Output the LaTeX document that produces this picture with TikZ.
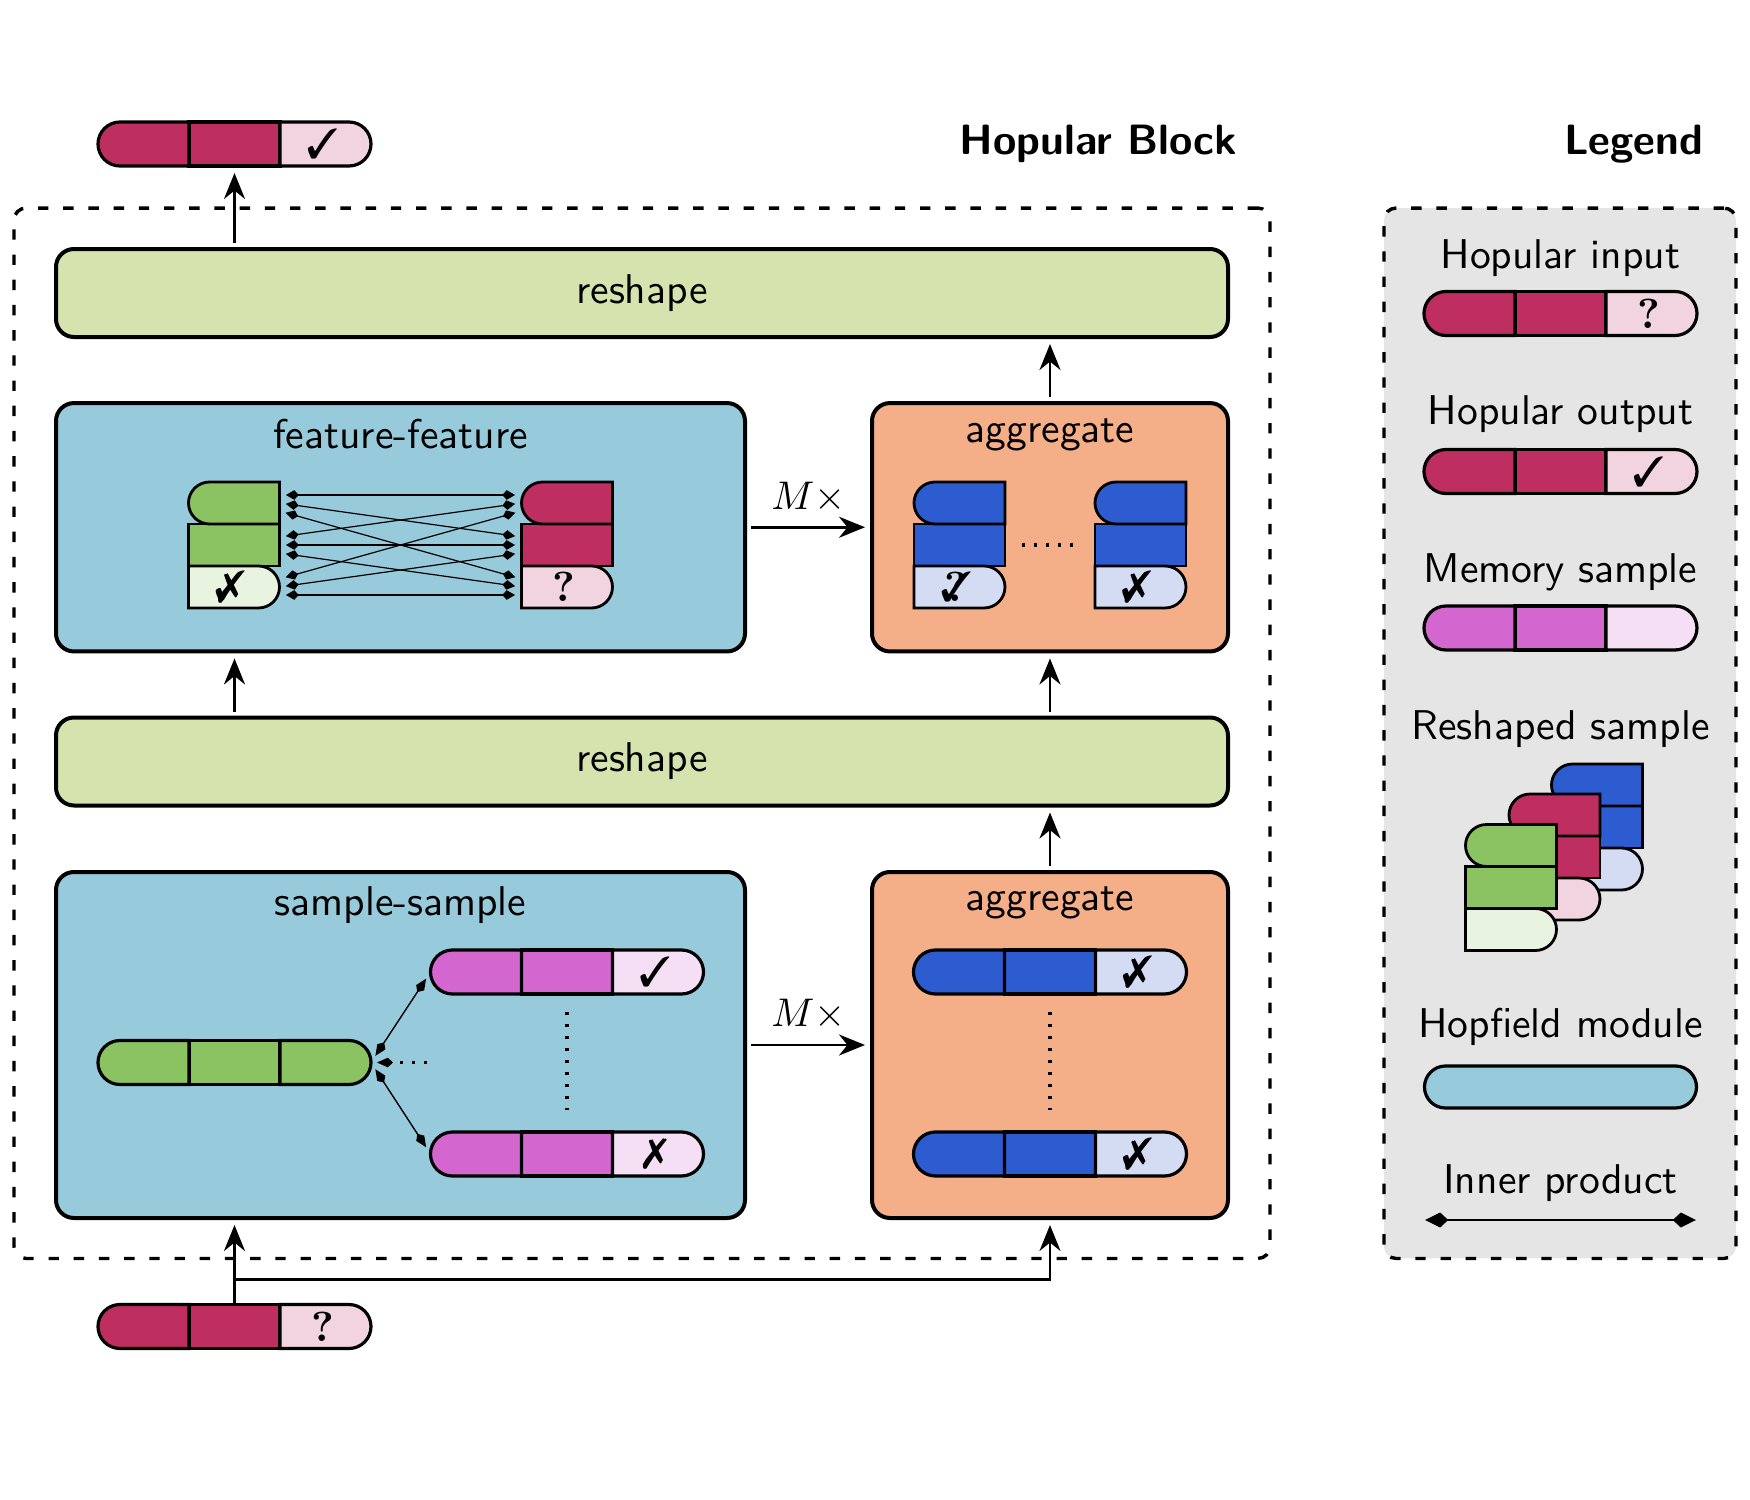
\documentclass[tikz,border=0pt]{standalone}
\usepackage{pifont}
\usetikzlibrary{arrows.meta,shapes.misc}
\definecolor{reshapeC}{RGB}{213,227,174}
\definecolor{hopC}{RGB}{151,203,219}
\definecolor{aggC}{RGB}{244,175,137}
\definecolor{magD}{RGB}{190,46,96}
\definecolor{magL}{RGB}{242,211,224}
\definecolor{grnD}{RGB}{139,195,99}
\definecolor{grnL}{RGB}{232,243,224}
\definecolor{memD}{RGB}{212,102,208}
\definecolor{memL}{RGB}{245,223,244}
\definecolor{bluD}{RGB}{45,91,208}
\definecolor{bluL}{RGB}{212,220,243}
\definecolor{legC}{RGB}{229,229,229}
\newcommand{\ck}{\makebox[0pt]{\ding{51}}}
\newcommand{\xx}{\makebox[0pt]{\ding{55}}}
\newcommand{\qm}{\makebox[0pt]{\rmfamily\bfseries ?}}
% horizontal bar of three segments
\newcommand{\hbarx}[6]{%
  \node[segM, fill=#4] (#1b) at (#2,#3) {};
  \node[segL, fill=#4, anchor=east] (#1a) at (#1b.west) {};
  \node[segR, fill=#5, anchor=west] (#1c) at (#1b.east) {#6};
}
% vertical stack of three segments
\newcommand{\vstackx}[6]{%
  \node[segM, vseg, fill=#4] (#1b) at (#2,#3) {};
  \node[segL, vseg, fill=#4, anchor=east, yshift=5.25pt] (#1a) at (#1b.north east) {};
  \node[segR, vseg, fill=#5, anchor=west, yshift=-5.25pt] (#1c) at (#1b.south west) {#6};
}
\begin{document}
\begin{tikzpicture}[x=0.25pt,y=-0.25pt,
  font=\fontsize{10.4}{12.5}\selectfont\sffamily,
  seg/.style={draw, line width=0.8pt, inner sep=0pt, outer sep=0pt, minimum width=22.75pt, minimum height=11pt, font=\fontsize{10.5}{12}\selectfont},
  vseg/.style={minimum height=10.5pt, line width=0.7pt},
  segL/.style={seg, rounded rectangle, rounded rectangle east arc=none},
  segM/.style={seg, rectangle},
  segR/.style={seg, rounded rectangle, rounded rectangle west arc=none},
  box/.style={draw, line width=1pt, rounded corners=4.5pt, inner sep=0pt, outer sep=0pt},
  rsbox/.style={box, fill=reshapeC, minimum width=293pt, minimum height=22pt},
  hopbox/.style={box, fill=hopC, minimum width=172.25pt},
  aggbox/.style={box, fill=aggC, minimum width=89pt},
  dashbox/.style={draw, line width=0.85pt, dash pattern=on 2.6pt off 3.7pt, rounded corners=3pt, inner sep=0pt, outer sep=0pt, minimum height=262.6pt},
  title/.style={font=\fontsize{10.6}{12.5}\selectfont\sffamily\bfseries, inner sep=0pt},
  lab/.style={inner sep=0pt},
  arr/.style={-{Stealth[length=6.5pt,width=5.25pt]}, line width=0.7pt, shorten >=1.75pt, shorten <=1.5pt},
  ipF/.style={{Kite[length=3.2pt,width=2.4pt,inset=1.1pt]}-{Kite[length=3.2pt,width=2.4pt,inset=1.1pt]}, line width=0.3pt, shorten <=1.6pt, shorten >=1.6pt},
  ipS/.style={{Kite[length=4pt,width=2.4pt,inset=1.3pt]}-{Kite[length=4pt,width=2.4pt,inset=1.3pt]}, line width=0.35pt, shorten <=2pt, shorten >=2pt},
  dotline/.style={line width=0.8pt, dash pattern=on 0.8pt off 2.2pt},
]
\useasboundingbox (0,0) rectangle (1750,1500);

% containers
\node[dashbox, minimum width=314pt] (blk) at (642,733.25) {};
\node[dashbox, fill=legC, minimum width=88pt] (leg) at (1560,733.25) {};
\node[title, anchor=east] (tblk) at (1238,144) {Hopular Block};
\node[title, anchor=east] (tleg) at (1704,144) {Legend};

% main boxes
\node[rsbox] (rs1) at (642,293) {reshape};
\node[hopbox, minimum height=62.1pt] (ff) at (400.5,527.25) {};
\node[aggbox, minimum height=62.1pt] (ag1) at (1050,527.25) {};
\node[rsbox] (rs2) at (642,761.5) {reshape};
\node[hopbox, minimum height=86.5pt] (ss) at (400.5,1045) {};
\node[aggbox, minimum height=86.5pt] (ag2) at (1050,1045) {};

\node[lab, anchor=base] (ffT) at (400.5,448) {feature-feature};
\node[lab, anchor=base] (ag1T) at (1050,442) {aggregate};
\node[lab, anchor=base] (ssT) at (400.5,915) {sample-sample};
\node[lab, anchor=base] (ag2T) at (1050,910) {aggregate};

% bars
\hbarx{out}{234.5}{144}{magD}{magL}{\ck}
\hbarx{inp}{234.5}{1326.5}{magD}{magL}{\qm}
\hbarx{ssg}{234.5}{1062.5}{grnD}{grnD}{}
\hbarx{ssm1}{567}{972}{memD}{memL}{\ck}
\hbarx{ssm2}{567}{1154}{memD}{memL}{\xx}
\hbarx{agb1}{1050}{972}{bluD}{bluL}{\ck\xx}
\hbarx{agb2}{1050}{1154}{bluD}{bluL}{\ck\xx}

% stacks
\vstackx{ffg}{234}{545}{grnD}{grnL}{\ck\xx}
\vstackx{ffm}{567}{545}{magD}{magL}{\qm}
\vstackx{agL}{959.5}{545}{bluD}{bluL}{\ck\qm}
\vstackx{agR}{1140.5}{545}{bluD}{bluL}{\ck\xx}

% feature-feature inner products
\foreach \i/\oi in {a/0,b/1,c/2}{
  \foreach \j/\oj in {a/0,b/1,c/2}{
    \draw[ipF] ([yshift={(1-\oj)*2pt}]ffg\i.east) -- ([yshift={(1-\oi)*2pt}]ffm\j.west);
  }
}

% sample-sample inner products
\draw[ipS] (ssgc.east) -- (ssm1a.west);
\draw[ipS] (ssgc.east) -- (ssm2a.west);
\coordinate (ssd) at (427,1062.5);
\draw[dotline, -{Kite[length=4pt,width=2.4pt,inset=1.3pt]}, shorten >=1.5pt] (ssd) -- (ssgc.east);
\draw[dotline] ([yshift=-4.5pt]ssm1b.south) -- ([yshift=5.5pt]ssm2b.north);
\draw[dotline] ([yshift=-4.5pt]agb1b.south) -- ([yshift=5.5pt]agb2b.north);
\draw[dotline] ([xshift=4.25pt]agLb.east) -- ([xshift=-4.5pt]agRb.west);

% flow arrows
\draw[arr] (rs1.north -| outb.south) -- (outb.south);
\draw[arr] (rs2.north -| outb.south) -- (ff.south -| outb.south);
\draw[arr] (rs2.north -| ag1.south) -- (ag1.south);
\draw[arr] (ag1.north) -- (rs1.south -| ag1.north);
\draw[arr] (ag2.north) -- (rs2.south -| ag2.north);
\draw[arr] (ff.east) -- node[lab, yshift=7.5pt] (mx1) {$M\times$} (ag1.west);
\draw[arr] (ss.east) -- node[lab, yshift=7.75pt] (mx2) {$M\times$} (ag2.west);
\draw[arr, shorten <=0pt] (inpb.north) -- (ss.south -| inpb.north);
\coordinate (br) at (234.5,1279.5);
\draw[arr, shorten <=0pt] (br) -| (ag2.south);

% legend
\node[lab] (l1) at (1560.5,258) {Hopular input};
\hbarx{lin}{1560.5}{313.5}{magD}{magL}{\qm}
\node[lab] (l2) at (1560.5,414) {Hopular output};
\hbarx{lout}{1560.5}{471.5}{magD}{magL}{\ck}
\node[lab] (l3) at (1560.5,572) {Memory sample};
\hbarx{lmem}{1560.5}{628}{memD}{memL}{}
\node[lab] (l4) at (1560.5,729) {Reshaped sample};
\vstackx{lsb}{1597}{827}{bluD}{bluL}{}
\vstackx{lsm}{1554.5}{857}{magD}{magL}{}
\vstackx{lsg}{1511}{887.5}{grnD}{grnL}{}
\node[lab] (l5) at (1560.5,1027) {Hopfield module};
\node[rounded rectangle, draw, line width=0.8pt, fill=hopC, inner sep=0pt, minimum width=68pt, minimum height=10.5pt] (lhop) at (1560.5,1087) {};
\node[lab] (l6) at (1560.5,1183) {Inner product};
\coordinate (ipa) at (1425,1220);
\coordinate (ipb) at (1696,1220);
\draw[line width=0.45pt, {Kite[length=5.8pt,width=3.75pt,inset=2pt]}-{Kite[length=5.8pt,width=3.75pt,inset=2pt]}] (ipa) -- (ipb);
\end{tikzpicture}
\end{document}
